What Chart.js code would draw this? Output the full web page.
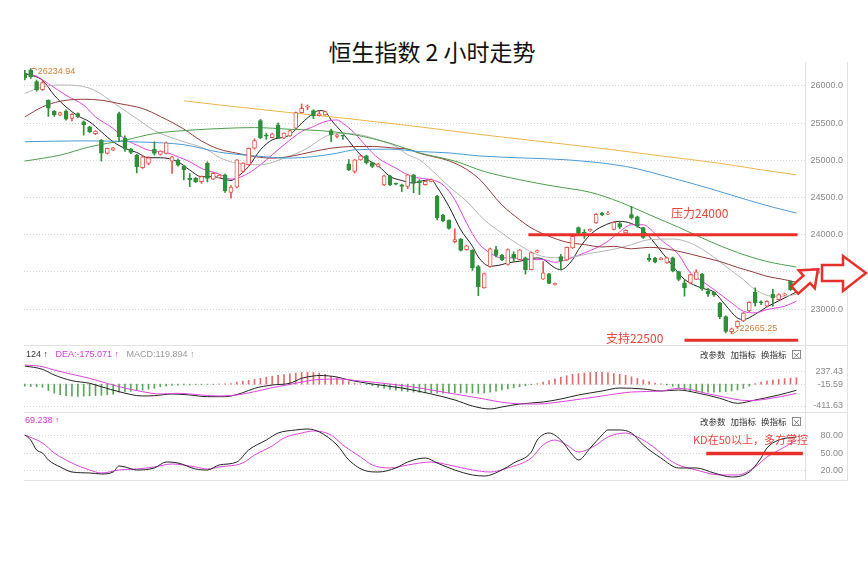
<!DOCTYPE html>
<html>
<head>
<meta charset="utf-8">
<script src="https://cdn.jsdelivr.net/npm/chart.js@4.4.0/dist/chart.umd.min.js"></script>
<style>
  body { margin: 0; background: #fff; font-family: "Noto Sans CJK SC", "Liberation Sans", sans-serif; }
  #wrap { position: relative; width: 868px; height: 565px; overflow: hidden; }
  canvas { position: absolute; left: 0; }
  .abs { position: absolute; white-space: nowrap; }
  .line { position: absolute; background: #e2e2e2; }
  .hdr { font: 9px "Liberation Sans", sans-serif; line-height: 12px; }
  .menu { font: 8.5px "Noto Sans CJK SC", sans-serif; line-height: 12px; color: #333; }
  .menu span { margin-right: 5px; }
  .xbox { display: inline-block; width: 7px; height: 7px; border: 1px solid #888; font-size: 8px; line-height: 7px; text-align: center; color: #666; }
  .note { color: #e8453c; font-family: "Noto Sans CJK SC", sans-serif; line-height: 16px; }
</style>
</head>
<body>
<div id="wrap">
  <div class="abs" style="left:0; width:864px; top:36px; text-align:center; font-size:23px; line-height:30px; color:#111;">恒生指数 2 小时走势</div>

  <canvas id="main" width="868" height="283" style="top:62px"></canvas>
  <canvas id="macd" width="868" height="48" style="top:362px"></canvas>
  <canvas id="kd" width="868" height="52" style="top:428px"></canvas>

  <!-- panel frame -->
  <div class="line" style="left:805px; top:62px; width:1px; height:418px;"></div>
  <div class="line" style="left:847px; top:62px; width:1px; height:418px;"></div>
  <div class="line" style="left:24px; top:345px; width:824px; height:1px;"></div>
  <div class="line" style="left:24px; top:412px; width:824px; height:1px;"></div>
  <div class="line" style="left:24px; top:480px; width:824px; height:1px;"></div>

  <!-- MACD header -->
  <div class="abs hdr" style="left:26px; top:348px;">
    <span style="color:#333">124 ↑</span>&nbsp;&nbsp;
    <span style="color:#d43bd4">DEA:-175.071 ↑</span>&nbsp;&nbsp;
    <span style="color:#999">MACD:119.894 ↑</span>
  </div>
  <div class="abs menu" style="left:700px; top:348px;"><span>改参数</span><span>加指标</span><span>换指标</span><span class="xbox">×</span></div>

  <!-- KD header -->
  <div class="abs hdr" style="left:25px; top:414px; color:#d43bd4;">69.238 ↑</div>
  <div class="abs menu" style="left:700px; top:415px;"><span>改参数</span><span>加指标</span><span>换指标</span><span class="xbox">×</span></div>

  <!-- notes -->
  <div class="abs note" style="left:671px; top:205px; font-size:12px;">压力24000</div>
  <div class="abs note" style="left:606px; top:330px; font-size:12px;">支持22500</div>
  <div class="abs note" style="left:693px; top:431px; font-size:11px;">KD在50以上，多方掌控</div>

  <svg class="abs" style="left:0; top:0;" width="868" height="565">
    <g fill="#fff" stroke="#e8302a" stroke-width="2.5" stroke-linejoin="miter">
      <polygon points="822,265 843,265 843,256 866,273 843,291 843,281 822,281"/>
      <polygon transform="translate(806,280) rotate(-42)" points="-15,-5 1,-5 1,-12 16,0 1,12 1,5 -15,5"/>
    </g>
  </svg>
</div>

<script>
// 2h candles, oldest first
const opens = [
  26170, 26215, 26060, 25950, 25808, 25660, 25607, 25660, 25562, 25630,
  25517, 25450, 25360, 25270, 25093, 25137, 25630, 25300, 25150, 25070,
  24900, 24960, 25150, 25080, 25093, 24990, 25003, 24927, 24757, 24757,
  24712, 24958, 24748, 24765, 24806, 24570, 24640, 24850, 24940, 25165,
  25535, 25335, 25306, 25476, 25297, 25329, 25432, 25642, 25714, 25668,
  25600, 25610, 25400, 25320, 25330, 24953, 24850, 25007, 25060, 24970,
  24917, 24670, 24790, 24685, 24670, 24650, 24805, 24720, 24672, 24715,
  24515, 24265, 24195, 23905, 23940, 23800, 23790, 23570, 23285, 23570,
  23800, 23725, 23600, 23735, 23665, 23690, 23530, 23765, 23403, 23475,
  23330, 23705, 23660, 23822, 24095, 24025, 24050, 24160, 24290, 24275,
  24070, 24150, 24025, 24270, 24240, 24095, 23687, 23687, 23665, 23620,
  23690, 23505, 23352, 23352, 23400, 23470, 23240, 23226, 23080, 22900,
  22695, 22765, 22840, 22975, 23225, 23090, 23038, 23200, 23128, 23190,
  23374, 23245
];
const highs = [
  26210, 26234.94, 26080, 26060, 25815, 25670, 25650, 25680, 25630, 25640,
  25530, 25460, 25400, 25280, 25165, 25175, 25650, 25330, 25160, 25080,
  25060, 25050, 25250, 25130, 25245, 25055, 25020, 24935, 24823, 24770,
  24790, 24980, 24835, 24810, 24815, 24660, 25010, 24970, 25165, 25290,
  25550, 25365, 25365, 25500, 25370, 25410, 25650, 25758, 25745, 25680,
  25660, 25660, 25420, 25350, 25340, 25010, 25015, 25065, 25070, 24975,
  24960, 24800, 24800, 24695, 24680, 24815, 24810, 24740, 24725, 24750,
  24530, 24275, 24200, 24080, 23950, 23860, 23800, 23590, 23485, 23820,
  23845, 23735, 23810, 23770, 23800, 23700, 23765, 23795, 23640, 23480,
  23350, 23735, 23835, 23990, 24105, 24070, 24080, 24285, 24300, 24310,
  24175, 24170, 24065, 24380, 24250, 24100, 23740, 23695, 23695, 23700,
  23700, 23510, 23397, 23470, 23530, 23480, 23280, 23235, 23090, 22910,
  22745, 22845, 22955, 23100, 23285, 23110, 23115, 23265, 23205, 23215,
  23380, 23265
];
const lows = [
  26080, 26100, 25930, 25940, 25590, 25590, 25600, 25540, 25530, 25575,
  25340, 25370, 25345, 24990, 25085, 25130, 25250, 25120, 25090, 24830,
  24890, 24940, 25070, 25070, 25085, 24825, 24920, 24735, 24645, 24700,
  24690, 24710, 24740, 24760, 24570, 24490, 24630, 24840, 24935, 25150,
  25290, 25280, 25300, 25290, 25290, 25320, 25420, 25635, 25680, 25560,
  25595, 25605, 25250, 25300, 25280, 24860, 24830, 25000, 24950, 24900,
  24910, 24660, 24660, 24670, 24580, 24620, 24564, 24540, 24665, 24710,
  24200, 24175, 24075, 23890, 23780, 23790, 23520, 23180, 23280, 23560,
  23700, 23650, 23590, 23640, 23660, 23470, 23525, 23760, 23398, 23340,
  23320, 23525, 23650, 23815, 24000, 23950, 24045, 24150, 24255, 24270,
  24065, 24080, 24020, 24210, 24100, 23950, 23640, 23620, 23660, 23615,
  23500, 23380, 23173, 23340, 23395, 23250, 23170, 23170, 22870, 22680,
  22665.25, 22740, 22830, 22965, 23040, 23060, 23030, 23040, 23120, 23180,
  23250, 23230
];
const closes = [
  26110, 26120, 25945, 26045, 25700, 25610, 25642, 25555, 25620, 25585,
  25475, 25385, 25392, 25095, 25160, 25168, 25316, 25150, 25105, 24915,
  25048, 25035, 25093, 25123, 25235, 25047, 24936, 24870, 24735, 24712,
  24780, 24757, 24825, 24800, 24587, 24640, 25005, 24962, 25160, 25265,
  25306, 25325, 25355, 25306, 25365, 25400, 25642, 25700, 25725, 25597,
  25625, 25655, 25342, 25342, 25325, 24873, 25007, 25060, 24970, 24917,
  24953, 24790, 24670, 24680, 24648, 24805, 24700, 24700, 24716, 24740,
  24230, 24185, 24085, 23935, 23790, 23850, 23555, 23300, 23477, 23810,
  23720, 23660, 23800, 23685, 23795, 23530, 23760, 23785, 23486, 23345,
  23345, 23650, 23830, 23978, 24020, 24020, 24075, 24275, 24265, 24290,
  24165, 24100, 24058, 24225, 24115, 23965, 23660, 23630, 23687, 23690,
  23510, 23400, 23285, 23464, 23500, 23270, 23205, 23195, 22895, 22700,
  22735, 22835, 22945, 23090, 23085, 23085, 23105, 23150, 23195, 23200,
  23262, 23250
];

// moving averages: [candle index, value]
const ma5 = [[0,26165],[3,26076],[5,25875],[7,25718],[9,25598],[11,25517],[13,25383],[15,25249],[17,25160],[19,25106],[21,25035],[23,25035],[26,24981],[28,24869],[30,24780],[32,24780],[35,24729],[36,24774],[38,24917],[40,25141],[42,25275],[44,25311],[45,25342],[47,25499],[49,25633],[50,25669],[51,25655],[52,25543],[54,25364],[56,25163],[57,25074],[59,24971],[60,24926],[62,24783],[64,24729],[66,24694],[67,24716],[69,24739],[70,24640],[72,24381],[74,24068],[76,23844],[77,23700],[79,23576],[81,23598],[82,23621],[84,23643],[87,23688],[88,23670],[90,23554],[91,23531],[93,23665],[94,23800],[96,24000],[98,24110],[101,24180],[103,24150],[105,24060],[107,23880],[110,23580],[112,23400],[115,23280],[117,23230],[119,23050],[121,22880],[122,22860],[124,22930],[126,23030],[128,23110],[130,23190],[131,23230]];
const ma10 = [[0,26170],[2,26130],[4,26031],[7,25875],[10,25741],[12,25584],[15,25428],[17,25285],[19,25205],[21,25137],[24,25106],[26,25048],[28,24981],[30,24891],[33,24815],[35,24747],[38,24828],[40,24940],[42,25074],[44,25208],[47,25387],[49,25454],[51,25521],[53,25543],[54,25499],[56,25364],[58,25186],[60,25029],[63,24895],[65,24805],[67,24761],[69,24739],[71,24672],[73,24471],[75,24158],[77,23889],[79,23755],[81,23688],[83,23688],[85,23665],[88,23665],[90,23630],[92,23665],[95,23755],[97,23822],[99,23911],[101,24040],[103,24134],[105,24134],[106,24090],[108,23933],[111,23732],[113,23486],[115,23374],[117,23262],[120,23083],[122,22971],[124,22949],[126,22994],[129,23038],[131,23106]];
const ma20 = [[0,25900],[3,25987],[6,26013],[11,25969],[16,25722],[19,25560],[22,25400],[26,25275],[31,25141],[33,25040],[36,24960],[40,24940],[44,25029],[48,25163],[51,25320],[54,25364],[57,25342],[60,25275],[63,25186],[65,25074],[67,25007],[70,24800],[72,24650],[75,24450],[78,24200],[81,24020],[84,23860],[87,23730],[90,23690],[93,23700],[96,23750],[99,23790],[101,23822],[103,23866],[106,23933],[110,23942],[113,23888],[116,23754],[119,23575],[122,23396],[124,23262],[127,23173],[129,23173],[131,23200]];
const ma30 = [[0,25584],[3,25718],[6,25794],[10,25821],[13,25808],[16,25763],[20,25696],[23,25590],[27,25420],[30,25260],[33,25150],[36,25096],[39,25051],[42,25029],[45,25051],[49,25119],[52,25163],[56,25186],[59,25186],[63,25163],[65,25150],[67,25096],[73,24962],[77,24761],[81,24400],[84,24202],[86,24090],[89,23979],[92,23900],[95,23867],[98,23835],[100,23844],[103,23810],[106,23830],[108,23820],[111,23777],[115,23700],[118,23640],[121,23560],[124,23490],[126,23440],[129,23396],[131,23360]];
const ma60 = [[0,24990],[6,25070],[11,25181],[17,25271],[22,25360],[28,25405],[34,25430],[39,25440],[45,25418],[50,25400],[56,25342],[62,25230],[67,25100],[73,24990],[78,24850],[84,24739],[90,24650],[96,24570],[101,24440],[106,24270],[111,24100],[116,23920],[121,23760],[126,23640],[131,23565]];
const ma120 = [[0,25250],[10,25262],[20,25245],[27,25210],[33,25110],[39,25060],[45,25030],[49,25050],[53,25096],[56,25141],[62,25150],[67,25118],[72,25100],[77,25060],[85,25030],[92,25007],[102,24918],[110,24760],[117,24604],[123,24460],[127,24370],[131,24291]];
const ma250 = [[27,25800],[33,25745],[44,25650],[55,25560],[66,25460],[77,25350],[88,25250],[98,25160],[108,25060],[118,24960],[125,24873],[131,24806]];

// MACD panel
const macdHist = [
  -40, -45, -50, -60,
  -120, -170, -200, -215, -225, -230, -225, -220, -215, -210, -200, -190,
  -150, -140, -130, -120, -110, -95, -80,
  -50, -35, -25, -20, -15, -15, -10, -10, -5, -5, 5, 8, 10,
  40, 55, 70, 90, 110, 130, 150, 165, 180, 195, 210, 220, 225, 220, 210,
  185, 150, 120, 80, 50,
  20, 5, -10, -30,
  -60, -80, -100, -115, -130, -140, -150, -155, -160, -165, -170, -170, -165, -160, -160, -165, -170, -170, -165, -150, -130, -110, -90, -70, -50,
  -30, -10, 10,
  40, 70, 100, 130, 160, 185, 200, 210, 220, 225, 225, 215, 200, 185, 165, 140, 110, 80, 50,
  20, 5, -15, -40, -70,
  -110, -130, -140, -145, -150, -150, -145, -140, -130, -110, -80,
  -40, 10,
  40, 60, 75, 90, 105, 115, 119.894
];
const dif = [[0,343],[3,280],[5,173],[8,66],[11,17],[13,-48],[16,-142],[20,-223],[22,-217],[25,-185],[28,-204],[31,-236],[34,-236],[37,-161],[39,-78],[42,-16],[45,17],[47,111],[49,154],[50,164],[53,135],[55,79],[59,3],[64,-72],[69,-185],[73,-298],[76,-412],[79,-468],[81,-430],[84,-374],[88,-336],[91,-280],[94,-204],[98,-129],[101,-72],[105,-91],[108,-129],[111,-110],[114,-161],[118,-266],[121,-361],[124,-298],[128,-204],[131,-115.1]];
const dea = [[0,362],[3,330],[5,267],[8,186],[11,111],[13,47],[16,-48],[20,-142],[23,-185],[26,-172],[30,-204],[33,-223],[36,-204],[39,-142],[42,-67],[46,17],[49,79],[50,88],[53,98],[57,60],[62,3],[67,-72],[72,-167],[77,-261],[82,-355],[87,-374],[92,-317],[98,-223],[103,-148],[108,-129],[111,-78],[117,-204],[123,-312],[126,-280],[131,-175.071]];

// KD panel
const kLine = [[0,81.7],[1,73.1],[2,56],[3,50.9],[4,38.9],[6,26.9],[8,18.3],[11,16.6],[13,14.9],[15,18.3],[16,28.6],[17,26.9],[19,21.7],[22,25.2],[24,35.4],[26,33.7],[29,23.4],[31,21.7],[33,30.3],[36,35.4],[38,56],[41,73.1],[43,85.1],[46,90.3],[48,92],[50,86.9],[53,64.6],[55,38.9],[58,20],[60,18.3],[63,25.2],[65,35.4],[68,42.3],[70,33.7],[73,21.7],[76,13.2],[78,11.4],[81,21.7],[83,33.7],[86,52.6],[87,73.1],[89,85.1],[91,73.1],[93,47.4],[94,38.9],[96,59.4],[98,81.7],[99,90.3],[101,90.3],[103,85.1],[105,64.6],[108,42.3],[111,25.2],[114,25.2],[117,16.6],[120,9.7],[123,18.3],[125,42.3],[126,59.4],[128,73.1],[131,78.3]];
const dLine = [[0,81.7],[3,68],[5,50.9],[8,33.7],[11,21.7],[13,16.6],[16,21.7],[19,23.4],[22,26.9],[25,32],[29,26.9],[31,23.4],[33,26.9],[37,33.7],[39,47.4],[42,62.9],[44,76.6],[47,85.1],[49,88.6],[52,81.7],[54,64.6],[57,44],[59,30.3],[62,25.2],[65,30.3],[69,35.4],[72,30.3],[76,21.7],[79,18.3],[82,25.2],[86,42.3],[88,64.6],[90,73.1],[92,64.6],[94,52.6],[97,64.6],[99,78.3],[102,85.1],[104,78.3],[107,59.4],[109,42.3],[111,30.3],[114,21.7],[118,13.2],[121,13.2],[124,26.9],[126,44],[129,61.1],[131,73.1]];

// hand-drawn marks
const resistLevel = 24000, resistSpan = [85.5, 131.2];
const supportLevel = 22580, supportSpan = [112, 131.3];
const kdLevel = 50, kdSpan = [115.7, 132.1];

const upRed = '#e4574e';
const downGreen = '#2f8f3a';
const markRed = '#e8302a';
const xMin = -0.14, xMax = 132.46;

const pts = arr => arr.map(p => ({ x: p[0], y: p[1] }));
const isUp = i => closes[i] >= opens[i];

function xAxis() {
  return { type: 'linear', min: xMin, max: xMax, display: false, offset: false, grid: { display: false } };
}
function yAxis(min, max, tickVals, digits, pad) {
  return {
    position: 'right', min: min, max: max,
    afterBuildTicks: s => { s.ticks = tickVals.map(v => ({ value: v })); },
    // keep the plot area full height, labels only need horizontal room
    afterFit: s => { s.width = 38; s.paddingTop = 0; s.paddingBottom = 0; },
    ticks: {
      callback: v => Number(v).toFixed(digits),
      color: '#888', font: { size: 9, family: 'Liberation Sans' },
      padding: pad, crossAlign: 'far', autoSkip: false
    },
    grid: { color: '#d4d4d4', drawTicks: false },
    border: { display: false, dash: [1, 2] }
  };
}
function lineSet(data, color, order) {
  return {
    type: 'line', data: pts(data), borderColor: color, borderWidth: 1,
    pointRadius: 0, cubicInterpolationMode: 'monotone', order: order
  };
}
const baseOpts = {
  responsive: false, animation: false, events: [],
  layout: { padding: { left: 24, right: 25, top: 0, bottom: 0 } },
  plugins: { legend: { display: false }, tooltip: { enabled: false } }
};

function hline(chart, span, level, width) {
  const { ctx, scales: { x, y } } = chart;
  const py = y.getPixelForValue(level);
  ctx.save();
  ctx.strokeStyle = markRed;
  ctx.lineWidth = width;
  ctx.beginPath();
  ctx.moveTo(x.getPixelForValue(span[0]), py);
  ctx.lineTo(x.getPixelForValue(span[1]), py);
  ctx.stroke();
  ctx.restore();
}

// --- main price chart ---
const markPlugin = {
  id: 'marks',
  afterDatasetsDraw(chart) {
    hline(chart, resistSpan, resistLevel, 3);
    hline(chart, supportSpan, supportLevel, 3);

    const { ctx, scales: { x, y } } = chart;
    const hi = Math.max(...highs), hiIdx = highs.indexOf(hi);
    const lo = Math.min(...lows), loIdx = lows.indexOf(lo);
    ctx.save();
    ctx.strokeStyle = '#d8893f';
    ctx.fillStyle = '#d0803a';
    ctx.lineWidth = 1;
    ctx.font = '9px "Liberation Sans"';
    ctx.textBaseline = 'middle';
    let px = x.getPixelForValue(hiIdx), py = y.getPixelForValue(hi);
    ctx.beginPath(); ctx.moveTo(px + 1, py); ctx.lineTo(px + 5, py); ctx.lineTo(px + 6, py + 2); ctx.stroke();
    ctx.fillText(hi.toFixed(2), px + 7, py + 3);
    px = x.getPixelForValue(loIdx); py = y.getPixelForValue(lo);
    ctx.beginPath(); ctx.moveTo(px + 1, py); ctx.lineTo(px + 7, py - 4); ctx.stroke();
    ctx.fillText(lo.toFixed(2), px + 8, py - 5);
    ctx.restore();
  }
};

new Chart(document.getElementById('main'), {
  type: 'bar',
  data: {
    datasets: [
      {
        data: opens.map((o, i) => ({ x: i, y: [Math.min(o, closes[i]), Math.max(o, closes[i])] })),
        backgroundColor: c => isUp(c.dataIndex) ? '#fff' : downGreen,
        borderColor: c => isUp(c.dataIndex) ? upRed : downGreen,
        borderWidth: 1, borderSkipped: false, barThickness: 4, minBarLength: 1,
        grouped: false, order: 0
      },
      {
        data: highs.map((h, i) => ({ x: i, y: [lows[i], h] })),
        backgroundColor: c => isUp(c.dataIndex) ? upRed : downGreen,
        borderWidth: 0, barThickness: 1, grouped: false, order: 1
      },
      lineSet(ma250, '#f0b54a', 2),
      lineSet(ma120, '#4a9bd6', 2),
      lineSet(ma60, '#4c9e4c', 2),
      lineSet(ma30, '#923c3c', 2),
      lineSet(ma20, '#b4b4b4', 2),
      lineSet(ma10, '#dd44dd', 2),
      lineSet(ma5, '#222', 2)
    ]
  },
  options: Object.assign({}, baseOpts, {
    scales: {
      x: xAxis(),
      y: yAxis(22517, 26322, [23000, 23500, 24000, 24500, 25000, 25500, 26000], 1, 4)
    }
  }),
  plugins: [markPlugin]
});

// --- MACD ---
new Chart(document.getElementById('macd'), {
  type: 'bar',
  data: {
    datasets: [
      {
        data: macdHist.map((v, i) => ({ x: i, y: v })),
        backgroundColor: c => c.raw.y >= 0 ? '#e36a6a' : '#5aa65a',
        borderWidth: 0, barThickness: 1, grouped: false, order: 1
      },
      lineSet(dea, '#dd44dd', 0),
      lineSet(dif, '#222', 0)
    ]
  },
  options: Object.assign({}, baseOpts, {
    scales: {
      x: xAxis(),
      y: yAxis(-487, 418, [237.43, -15.59, -411.63], 2, 4)
    }
  })
});

// --- KD ---
new Chart(document.getElementById('kd'), {
  type: 'line',
  data: {
    datasets: [
      lineSet(dLine, '#dd44dd', 1),
      lineSet(kLine, '#222', 0)
    ]
  },
  options: Object.assign({}, baseOpts, {
    scales: {
      x: xAxis(),
      y: yAxis(4.57, 93.7, [80, 50, 20], 2, 12)
    }
  }),
  plugins: [{
    id: 'kdMark',
    afterDatasetsDraw(chart) { hline(chart, kdSpan, kdLevel, 3.5); }
  }]
});
</script>
</body>
</html>
